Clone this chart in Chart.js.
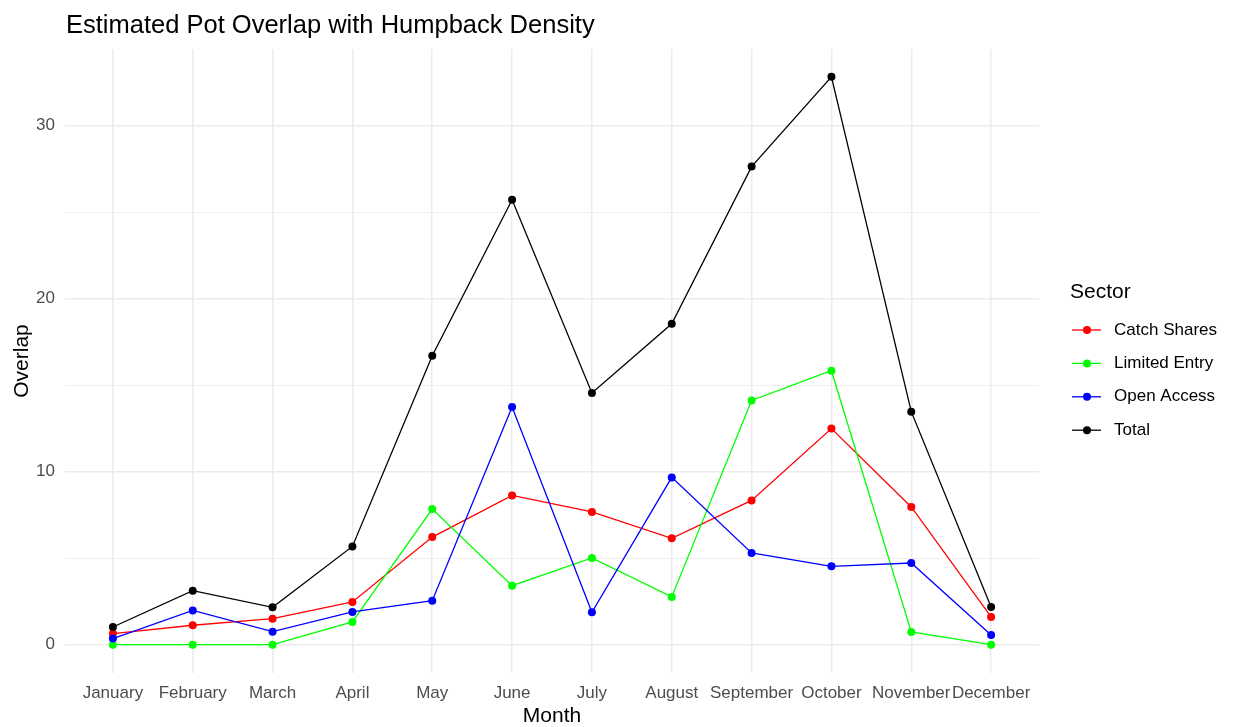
<!DOCTYPE html>
<html>
<head>
<meta charset="utf-8">
<title>Estimated Pot Overlap with Humpback Density</title>
<script src="https://cdn.jsdelivr.net/npm/chart.js@4.4.1/dist/chart.umd.min.js"></script>
<style>
  html, body { margin: 0; padding: 0; background: #fff; }
  #wrap { width: 1235px; height: 727px; position: relative; }
</style>
</head>
<body>
<div id="wrap"><canvas id="overlapChart"></canvas></div>
<script>
const months = ["January", "February", "March", "April", "May", "June",
  "July", "August", "September", "October", "November", "December"];

const catchShares = [0.64, 1.12, 1.50, 2.47, 6.22, 8.63, 7.67, 6.15, 8.34, 12.49, 7.96, 1.60];
const limitedEntry = [0, 0, 0, 1.31, 7.84, 3.41, 5.01, 2.76, 14.12, 15.84, 0.73, 0];
const openAccess = [0.35, 1.98, 0.75, 1.89, 2.54, 13.74, 1.87, 9.67, 5.30, 4.53, 4.72, 0.56];
const total = [1.02, 3.12, 2.16, 5.68, 16.70, 25.72, 14.55, 18.55, 27.64, 32.83, 13.47, 2.18];

const yTicks = [0, 5, 10, 15, 20, 25, 30];

const FONT = "'Liberation Sans', Arial, sans-serif";

function toPoints(arr) {
  return arr.map((v, i) => ({ x: i, y: v }));
}

function series(label, values, color, order) {
  return {
    label: label,
    data: toPoints(values),
    borderColor: color,
    backgroundColor: color,
    pointBackgroundColor: color,
    pointBorderWidth: 0,
    pointRadius: 4,
    borderWidth: 1.3,
    tension: 0,
    order: order
  };
}

// title and the "Sector" key, drawn by hand like ggplot lays them out
const sidePlugin = {
  id: "sideText",
  afterDraw(chart) {
    const ctx = chart.ctx;
    ctx.save();
    ctx.fillStyle = "#000";
    ctx.textAlign = "left";
    ctx.textBaseline = "alphabetic";
    ctx.font = "25.5px " + FONT;
    ctx.fillText("Estimated Pot Overlap with Humpback Density", 66, 33);

    ctx.font = "21px " + FONT;
    ctx.fillText("Sector", 1070, 298);

    ctx.font = "17px " + FONT;
    chart.data.datasets.forEach((ds, i) => {
      const y = 330 + i * 33.4;
      ctx.strokeStyle = ds.borderColor;
      ctx.lineWidth = 1.3;
      ctx.beginPath();
      ctx.moveTo(1072, y);
      ctx.lineTo(1101, y);
      ctx.stroke();
      ctx.fillStyle = ds.borderColor;
      ctx.beginPath();
      ctx.arc(1087, y, 4, 0, Math.PI * 2);
      ctx.fill();
      ctx.fillStyle = "#000";
      ctx.textBaseline = "middle";
      ctx.fillText(ds.label, 1114, y);
    });
    ctx.restore();
  }
};

new Chart(document.getElementById("overlapChart"), {
  type: "line",
  data: {
    datasets: [
      series("Catch Shares", catchShares, "#ff0000", 3),
      series("Limited Entry", limitedEntry, "#00ff00", 2),
      series("Open Access", openAccess, "#0000ff", 1),
      series("Total", total, "#000000", 0)
    ]
  },
  options: {
    responsive: true,
    maintainAspectRatio: false,
    animation: false,
    layout: { padding: { left: 0, right: 196, top: 49, bottom: 0 } },
    plugins: {
      legend: { display: false },
      tooltip: { enabled: false },
      title: { display: false }
    },
    scales: {
      x: {
        type: "linear",
        min: -0.6,
        max: 11.6,
        afterBuildTicks: (s) => { s.ticks = months.map((m, i) => ({ value: i })); },
        afterFit: (s) => { s.height = 54; },
        ticks: {
          callback: (v) => months[v],
          autoSkip: false,
          maxRotation: 0,
          padding: 10,
          color: "#4d4d4d",
          font: { family: FONT, size: 17 }
        },
        grid: { color: "#ebebeb", lineWidth: 1.5, drawTicks: false },
        border: { display: false },
        title: {
          display: true,
          text: "Month",
          color: "#000",
          padding: 0,
          font: { family: FONT, size: 21, lineHeight: 1 }
        }
      },
      y: {
        min: -1.64,
        max: 34.44,
        afterBuildTicks: (s) => { s.ticks = yTicks.map((v) => ({ value: v })); },
        afterFit: (s) => { s.width = 65; },
        ticks: {
          callback: (v) => (v % 10 === 0 ? String(v) : ""),
          padding: 10,
          color: "#4d4d4d",
          font: { family: FONT, size: 17 }
        },
        grid: {
          color: "#ebebeb",
          lineWidth: (c) => (c.tick && c.tick.value % 10 === 0 ? 1.5 : 0.8),
          drawTicks: false
        },
        border: { display: false },
        title: {
          display: true,
          text: "Overlap",
          color: "#000",
          padding: { top: 11.5, bottom: 0 },
          font: { family: FONT, size: 21, lineHeight: 1 }
        }
      }
    }
  },
  plugins: [sidePlugin]
});
</script>
</body>
</html>
